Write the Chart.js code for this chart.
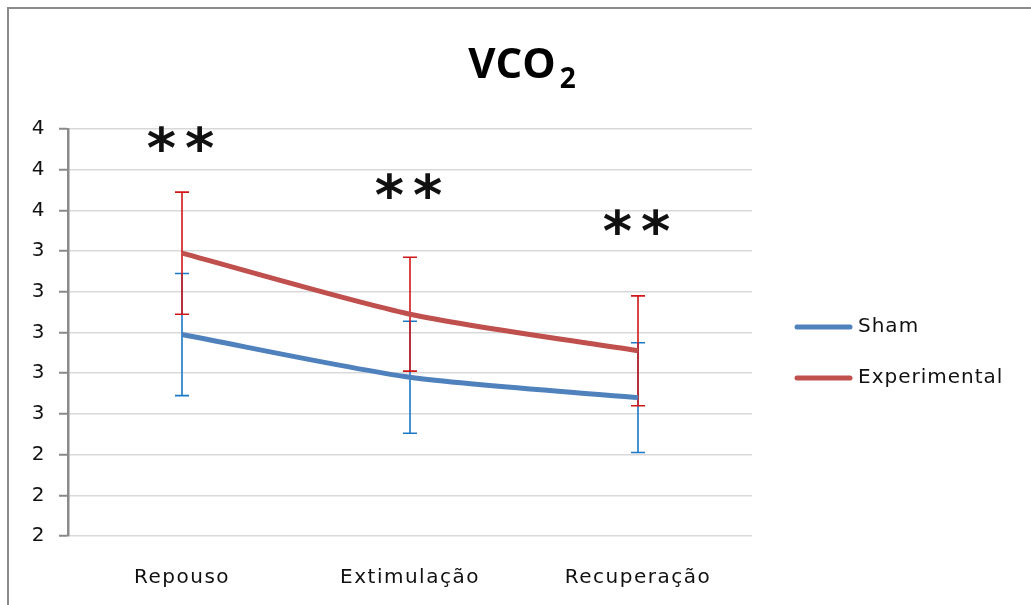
<!DOCTYPE html>
<html>
<head>
<meta charset="utf-8">
<script src="https://cdn.jsdelivr.net/npm/chart.js@4.4.1/dist/chart.umd.min.js"></script>
<style>
html,body{margin:0;padding:0;background:#fff;}
canvas{display:block;}
</style>
</head>
<body>
<canvas id="c" width="1031" height="605"></canvas>
<script>
// ---- data ----
const categories = ['Repouso', 'Extimulação', 'Recuperação'];
const seriesNames = ['Sham', 'Experimental'];
const shamValues = [2.99, 2.78, 2.68];
const shamErrors = [0.30, 0.275, 0.27];
const expValues = [3.39, 3.09, 2.91];
const expErrors = [0.30, 0.28, 0.27];
const yTickLabels = ['2', '2', '2', '3', '3', '3', '3', '3', '4', '4', '4'];
const sigMarks = ['**', '**', '**'];
const sigLevels = [3.95, 3.72, 3.54];
const titleMain = 'VCO';
const titleSub = '2';

const AXIS_FONT = 'DejaVu Sans';

const borderPlugin = {
  id: 'frame',
  beforeDraw(chart) {
    const ctx = chart.ctx;
    ctx.save();
    ctx.strokeStyle = '#8a8a8a';
    ctx.lineWidth = 2;
    ctx.beginPath();
    ctx.moveTo(8, 606);
    ctx.lineTo(8, 8);
    ctx.lineTo(1032, 8);
    ctx.stroke();
    ctx.restore();
    ctx.letterSpacing = '1.5px';
  }
};

const errorBarPlugin = {
  id: 'errorBars',
  beforeDatasetsDraw(chart) {
    const ctx = chart.ctx;
    const yScale = chart.scales.y;
    ctx.save();
    chart.data.datasets.forEach((ds, i) => {
      const meta = chart.getDatasetMeta(i);
      ctx.strokeStyle = ds.errorColor;
      ctx.lineWidth = 1.6;
      meta.data.forEach((pt, j) => {
        const v = ds.data[j], e = ds.errors[j];
        const x = pt.x;
        const yt = yScale.getPixelForValue(v + e);
        const yb = yScale.getPixelForValue(v - e);
        ctx.beginPath();
        ctx.moveTo(x, yt); ctx.lineTo(x, yb);
        ctx.moveTo(x - 7, yt); ctx.lineTo(x + 7, yt);
        ctx.moveTo(x - 7, yb); ctx.lineTo(x + 7, yb);
        ctx.stroke();
      });
    });
    ctx.restore();
  }
};

const overlayPlugin = {
  id: 'overlay',
  afterDraw(chart) {
    const ctx = chart.ctx;
    const xScale = chart.scales.x, yScale = chart.scales.y;
    ctx.save();
    // significance marks
    ctx.letterSpacing = '9px';
    ctx.fillStyle = '#111';
    ctx.font = 'bold 56px "DejaVu Sans"';
    ctx.textAlign = 'center';
    ctx.textBaseline = 'middle';
    sigMarks.forEach((m, i) => {
      const x = xScale.getPixelForValue(i) + 3;
      const y = yScale.getPixelForValue(sigLevels[i]) + 13;
      ctx.fillText(m, x, y);
    });
    // title
    ctx.letterSpacing = '0px';
    ctx.textAlign = 'left';
    ctx.textBaseline = 'alphabetic';
    ctx.fillStyle = '#000';
    ctx.font = 'bold 42px "Open Sans"';
    const wMain = ctx.measureText(titleMain).width;
    ctx.font = 'bold 28px "Open Sans"';
    const wSub = ctx.measureText(titleSub).width;
    const gap = 4;
    const total = wMain + gap + wSub;
    const tx = 522 - total / 2;
    ctx.font = 'bold 42px "Open Sans"';
    ctx.fillText(titleMain, tx, 78);
    ctx.font = 'bold 28px "Open Sans"';
    ctx.fillText(titleSub, tx + wMain + gap, 88);
    // legend
    ctx.letterSpacing = '1px';
    ctx.font = '20px "' + AXIS_FONT + '"';
    ctx.textBaseline = 'middle';
    ctx.fillStyle = '#111';
    const ly = [327, 378];
    chart.data.datasets.forEach((ds, i) => {
      ctx.strokeStyle = ds.borderColor;
      ctx.lineWidth = 5;
      ctx.lineCap = 'round';
      ctx.beginPath();
      ctx.moveTo(797, ly[i]);
      ctx.lineTo(850, ly[i]);
      ctx.stroke();
      ctx.fillText(ds.label, 858, ly[i]);
    });
    ctx.restore();
  }
};

new Chart(document.getElementById('c'), {
  type: 'line',
  data: {
    labels: categories,
    datasets: [
      {
        label: seriesNames[0],
        data: shamValues,
        errors: shamErrors,
        errorColor: '#1a78c8',
        borderColor: '#4F81BD',
        backgroundColor: '#4F81BD',
        borderWidth: 5,
        pointRadius: 0,
        tension: 0.25,
        fill: false
      },
      {
        label: seriesNames[1],
        data: expValues,
        errors: expErrors,
        errorColor: '#d01818',
        borderColor: '#C0504D',
        backgroundColor: '#C0504D',
        borderWidth: 5,
        pointRadius: 0,
        tension: 0.25,
        fill: false
      }
    ]
  },
  options: {
    responsive: false,
    animation: false,
    events: [],
    layout: { padding: { left: 0, right: 279, top: 129, bottom: 0 } },
    plugins: {
      legend: { display: false },
      title: { display: false },
      tooltip: { enabled: false }
    },
    scales: {
      x: {
        offset: true,
        grid: { display: false },
        border: { display: false },
        ticks: {
          color: '#111',
          font: { family: AXIS_FONT, size: 20 },
          padding: 22,
          maxRotation: 0
        },
        afterFit(s) { s.height = 69; }
      },
      y: {
        min: 2,
        max: 4,
        grid: {
          color: '#d9d9d9',
          lineWidth: 1.5,
          drawTicks: true,
          tickLength: 9,
          tickColor: '#8a8a8a',
          tickWidth: 2
        },
        border: { display: true, color: '#8a8a8a', width: 2.5 },
        ticks: {
          stepSize: 0.2,
          color: '#111',
          font: { family: AXIS_FONT, size: 20 },
          padding: 13,
          callback: (v, i) => yTickLabels[i]
        },
        afterFit(s) { s.width = 68; }
      }
    }
  },
  plugins: [borderPlugin, errorBarPlugin, overlayPlugin]
});
</script>
</body>
</html>
